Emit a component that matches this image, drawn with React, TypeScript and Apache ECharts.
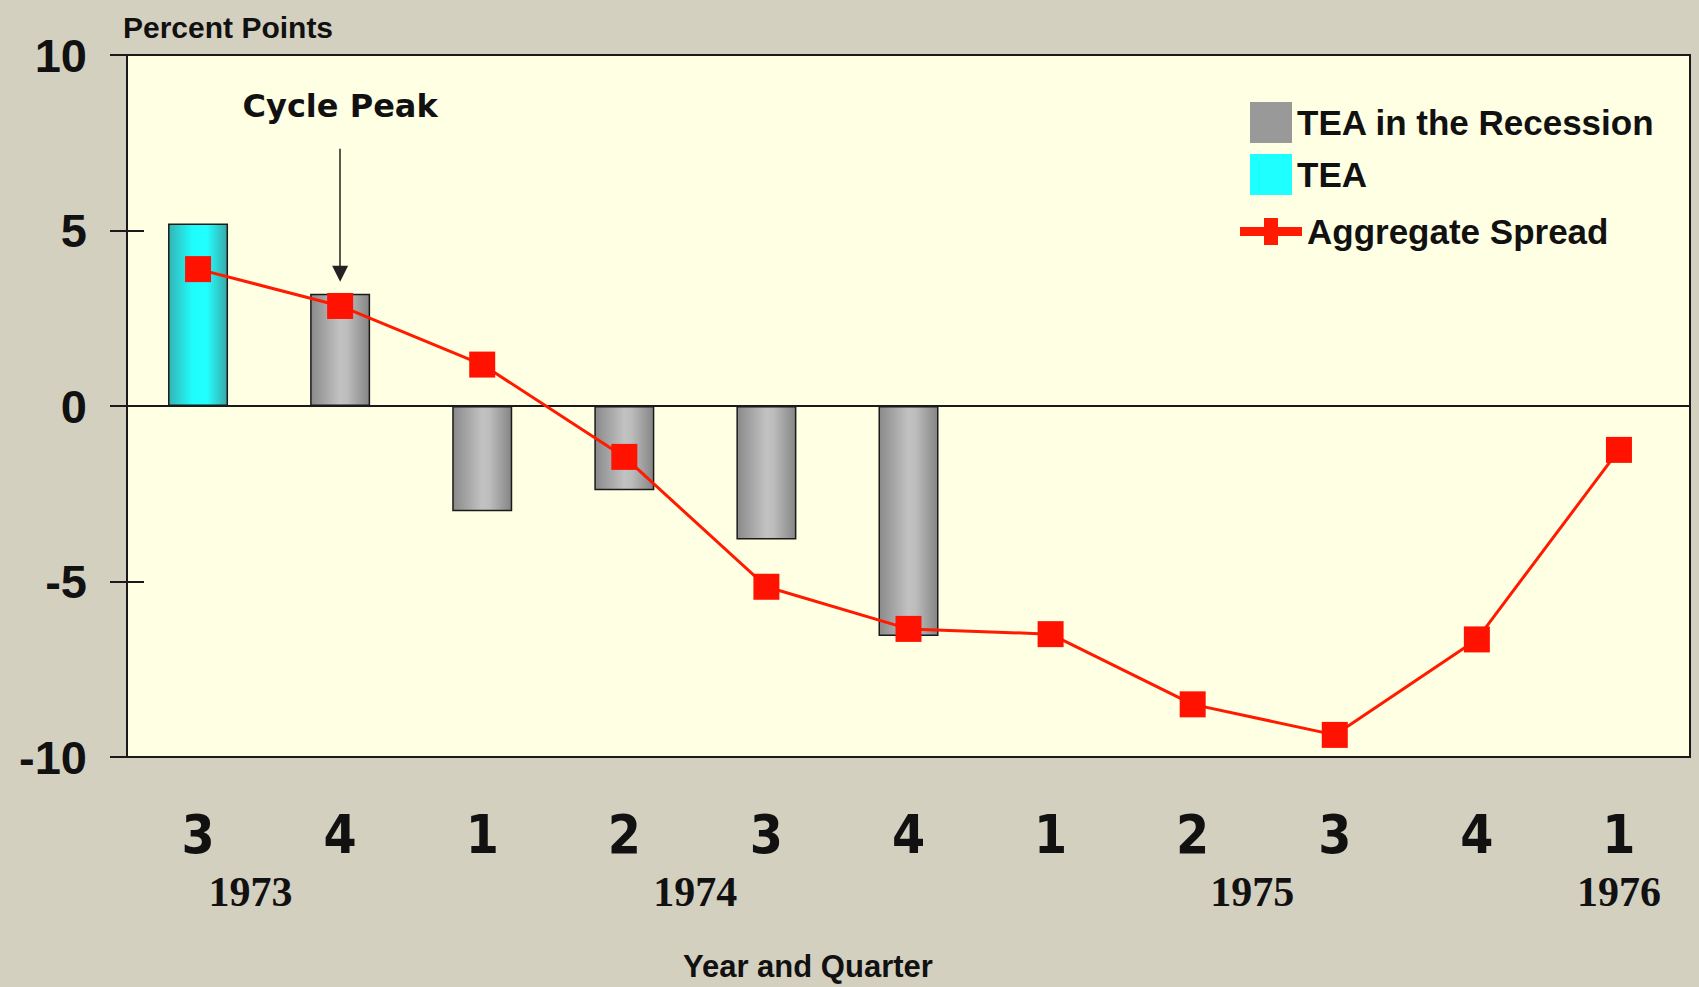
import React, { useEffect, useRef } from "react";
import * as echarts from "echarts";

// ---------- data ----------
const quarters = ["3", "4", "1", "2", "3", "4", "1", "2", "3", "4", "1"];
const teaValues = [5.2, null, null, null, null, null, null, null, null, null, null];
const recessionValues = [null, 3.2, -3.0, -2.4, -3.8, -6.55, null, null, null, null, null];
const spreadValues = [3.9, 2.85, 1.18, -1.45, -5.15, -6.35, -6.5, -8.5, -9.37, -6.65, -1.25];
const yearLabels = ["1973", "1974", "1975", "1976"];
const yearPositions = [0.37, 3.5, 7.42, 10];
const yMin = -10;
const yMax = 10;
const yStep = 5;
const cyclePeakIndex = 1;
const cyclePeakLabelValue = 8.55;
const cyclePeakArrowFrom = 7.33;
const cyclePeakArrowTo = 3.77;

const SANS = '"Liberation Sans", Arial, sans-serif';
const NARROW = '"Liberation Sans Narrow", "DejaVu Sans Condensed", "Liberation Sans", Arial, sans-serif';
const SERIF = '"Liberation Serif", "Times New Roman", serif';
const TEXT = "#111111";
const INK = "#1a1a1a";

const grayGrad = new echarts.graphic.LinearGradient(0, 0, 1, 0, [
  { offset: 0, color: "#8a8a8a" },
  { offset: 0.5, color: "#c2c2c2" },
  { offset: 0.62, color: "#bdbdbd" },
  { offset: 1, color: "#858585" },
]);
const cyanGrad = new echarts.graphic.LinearGradient(0, 0, 1, 0, [
  { offset: 0, color: "#35b4b4" },
  { offset: 0.4, color: "#1ffcfc" },
  { offset: 0.65, color: "#22ffff" },
  { offset: 1, color: "#3aa8a8" },
]);

function buildOption(): any {
  return {
    animation: false,
    backgroundColor: "#d4d0c0",
    grid: {
      left: 127,
      right: 9,
      top: 55,
      bottom: 230,
      show: true,
      backgroundColor: "#ffffe3",
      borderColor: INK,
      borderWidth: 2,
      containLabel: false,
      outerBoundsMode: "none",
    },
    legend: [
      {
        data: [
          { name: "TEA in the Recession", icon: "rect", itemStyle: { color: "#999999", borderWidth: 0 } },
          { name: "TEA", icon: "rect", itemStyle: { color: "#1effff", borderWidth: 0 } },
        ],
        orient: "vertical",
        left: 1250,
        top: 102,
        itemWidth: 42,
        itemHeight: 41,
        itemGap: 11,
        padding: 0,
        selectedMode: false,
        textStyle: { fontSize: 35, fontWeight: "bold", color: TEXT, fontFamily: SANS },
      },
      {
        data: [
          {
            name: "Aggregate Spread",
            icon: "path://M0,9H62V18H0Z M24,0H38V27H24Z",
            itemStyle: { color: "#ff1a00", borderWidth: 0 },
          },
        ],
        orient: "vertical",
        left: 1240,
        top: 214,
        itemWidth: 62,
        itemHeight: 27,
        padding: 0,
        selectedMode: false,
        textStyle: { fontSize: 35, fontWeight: "bold", color: TEXT, fontFamily: SANS },
      },
    ],
    xAxis: [
      {
        type: "category",
        data: quarters,
        position: "bottom",
        boundaryGap: true,
        axisLine: { show: false, onZero: false },
        axisTick: { show: false },
        splitLine: { show: false },
        axisLabel: {
          interval: 0,
          fontSize: 53,
          fontWeight: "bold",
          color: TEXT,
          fontFamily: NARROW,
          margin: 51,
        },
      },
      {
        type: "value",
        min: -0.5,
        max: 10.5,
        position: "bottom",
        axisLine: { show: false, onZero: false },
        axisTick: { show: false },
        splitLine: { show: false },
        axisLabel: {
          customValues: yearPositions,
          formatter: (v: number) => {
            const i = yearPositions.findIndex((p) => Math.abs(p - v) < 1e-6);
            return i >= 0 ? yearLabels[i] : "";
          },
          fontSize: 42,
          fontWeight: "bold",
          color: TEXT,
          fontFamily: SERIF,
          margin: 114,
        },
      },
    ],
    yAxis: [
      {
        type: "value",
        min: yMin,
        max: yMax,
        interval: yStep,
        name: "Percent Points",
        nameLocation: "end",
        nameGap: 13,
        nameTextStyle: {
          align: "left",
          fontSize: 30,
          fontWeight: "bold",
          color: TEXT,
          fontFamily: SANS,
          padding: [0, 0, 0, -4],
        },
        axisLine: { show: true, onZero: false, lineStyle: { color: INK, width: 2 } },
        axisTick: { show: true, length: 17, lineStyle: { color: INK, width: 2 } },
        splitLine: { show: false },
        axisLabel: {
          fontSize: 47,
          fontWeight: "bold",
          color: TEXT,
          fontFamily: SANS,
          margin: 40,
        },
      },
      {
        type: "value",
        min: yMin,
        max: yMax,
        interval: yStep,
        position: "left",
        axisLine: { show: false, onZero: false },
        axisTick: { show: true, inside: true, length: 17, lineStyle: { color: INK, width: 2 } },
        splitLine: { show: false },
        axisLabel: { show: false },
      },
    ],
    graphic: [
      {
        type: "text",
        left: 683,
        top: 951,
        silent: true,
        style: {
          text: "Year and Quarter",
          fontSize: 31,
          fontWeight: "bold",
          fontFamily: SANS,
          fill: TEXT,
        },
      },
    ],
    series: [
      {
        name: "TEA",
        type: "bar",
        xAxisIndex: 0,
        yAxisIndex: 0,
        data: teaValues,
        barWidth: 60,
        barGap: "-100%",
        itemStyle: { color: cyanGrad, borderColor: INK, borderWidth: 1.5 },
        markLine: {
          silent: true,
          symbol: ["none", "none"],
          label: { show: false },
          lineStyle: { color: INK, width: 2, type: "solid" },
          data: [{ yAxis: 0 }],
        },
      },
      {
        name: "TEA in the Recession",
        type: "bar",
        xAxisIndex: 0,
        yAxisIndex: 0,
        data: recessionValues,
        barWidth: 60,
        barGap: "-100%",
        itemStyle: { color: grayGrad, borderColor: INK, borderWidth: 1.5 },
        markLine: {
          silent: true,
          symbol: ["none", "triangle"],
          symbolSize: 16,
          label: { show: false },
          lineStyle: { color: "#222222", width: 1.5, type: "solid" },
          data: [
            [
              { coord: [cyclePeakIndex, cyclePeakArrowFrom] },
              { coord: [cyclePeakIndex, cyclePeakArrowTo] },
            ],
          ],
        },
        markPoint: {
          silent: true,
          symbol: "rect",
          symbolSize: 1,
          itemStyle: { color: "rgba(0,0,0,0)" },
          label: {
            show: true,
            position: "inside",
            formatter: "Cycle Peak",
            fontSize: 32,
            fontWeight: "bold",
            color: TEXT,
            fontFamily: '"DejaVu Sans", Verdana, sans-serif',
          },
          data: [{ coord: [cyclePeakIndex, cyclePeakLabelValue] }],
        },
      },
      {
        name: "Aggregate Spread",
        type: "line",
        xAxisIndex: 0,
        yAxisIndex: 0,
        data: spreadValues,
        z: 5,
        symbol: "rect",
        symbolSize: 26,
        itemStyle: { color: "#ff1200" },
        lineStyle: { color: "#ff1a00", width: 3 },
      },
    ],
  };
}

export default function App() {
  const ref = useRef<HTMLDivElement>(null);
  useEffect(() => {
    if (!ref.current) return;
    const chart = echarts.init(ref.current, null, { renderer: "svg" });
    chart.setOption(buildOption());
    return () => chart.dispose();
  }, []);
  return (
    <div
      ref={ref}
      style={{ position: "fixed", left: 0, top: 0, width: 1699, height: 987 }}
    />
  );
}
